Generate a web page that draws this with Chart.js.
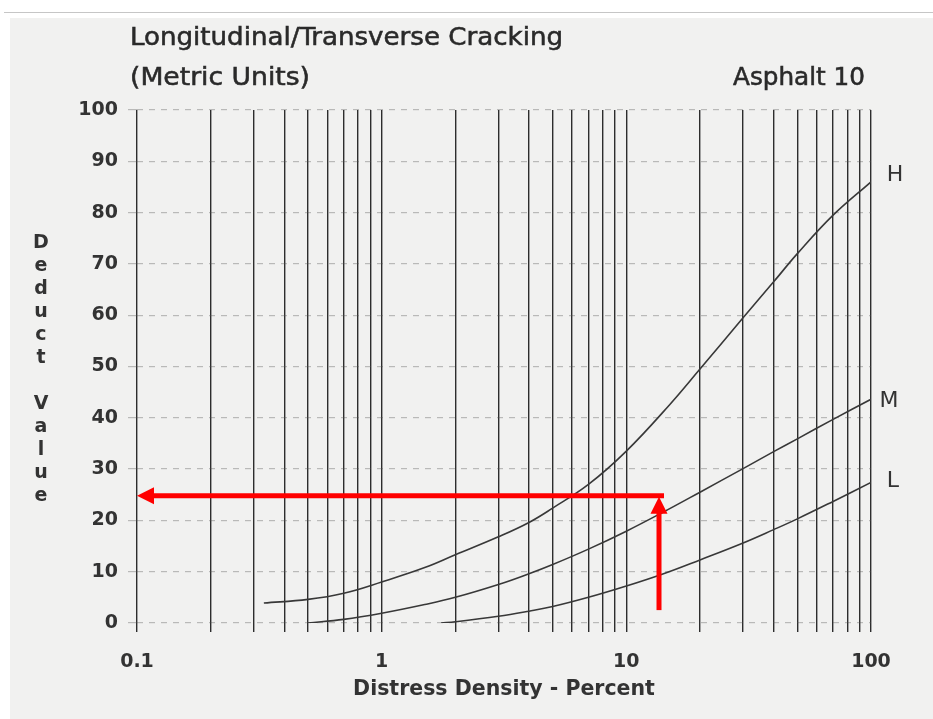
<!DOCTYPE html>
<html>
<head>
<meta charset="utf-8">
<title>Longitudinal/Transverse Cracking</title>
<script src="https://cdn.jsdelivr.net/npm/chart.js@4.4.1/dist/chart.umd.min.js"></script>
<style>
  html, body { margin: 0; padding: 0; background: #fff; }
  #wrap { position: relative; width: 933px; height: 719px; overflow: hidden; }
  #rule { position: absolute; left: 4px; right: 0; top: 12px; height: 1px; background: #c6c6c6; }
  #paper { position: absolute; left: 10px; right: 0; top: 18px; bottom: 0; background: #f1f1f0; }
  #chart { position: absolute; left: 0; top: 0; }
</style>
</head>
<body>
<div id="wrap">
  <div id="rule"></div>
  <div id="paper"></div>
  <canvas id="chart" width="933" height="719"></canvas>
</div>
<script>
// vertical grid lines (log cycles) and the ones that get a label
const gridValues = [0.1, 0.2, 0.3, 0.4, 0.5, 0.6, 0.7, 0.8, 0.9,
                    1, 2, 3, 4, 5, 6, 7, 8, 9,
                    10, 20, 30, 40, 50, 60, 70, 80, 90, 100];
const labelValues = [0.1, 1, 10, 100];

// severity curves
const highX = [0.33, 0.5, 0.7, 1, 1.5, 2, 3, 4, 5, 7, 10, 15, 20, 30, 40, 50, 70, 100];
const highY = [3.9, 4.6, 5.8, 8, 10.8, 13.3, 16.8, 19.6, 22.4, 27, 33.5, 42.5, 49.5, 59.5, 66.5, 72, 79.5, 86];

const medX = [0.5, 0.7, 1, 1.5, 2, 3, 4, 5, 7, 10, 14, 20, 30, 40, 50, 70, 100];
const medY = [0, 0.7, 1.9, 3.6, 5, 7.5, 9.6, 11.4, 14.4, 17.9, 21.5, 25.5, 30.1, 33.4, 35.9, 39.7, 43.6];

const lowX = [1.75, 2, 3, 4, 5, 7, 10, 14, 20, 30, 40, 50, 70, 100];
const lowY = [0, 0.23, 1.3, 2.3, 3.2, 5, 7.2, 9.5, 12.3, 15.6, 18.2, 20.3, 23.7, 27.4];

const curveNames = ["H", "M", "L"];

// red reading arrows: up from the density, then left to the deduct value
const arrowUpX = [13.6, 13.6];
const arrowUpY = [3, 24.6];
const arrowLeftX = [13.6, 0.1];
const arrowLeftY = [24.8, 24.8];

function toPoints(xs, ys) {
  return xs.map((x, i) => ({ x: x, y: ys[i] }));
}

function curve(label, xs, ys) {
  return {
    label: label,
    data: toPoints(xs, ys),
    borderColor: "#383838",
    borderWidth: 1.6,
    pointRadius: 0,
    tension: 0.4,
    fill: false
  };
}

function fitText(ctx, text, x, y, width, align) {
  const w = ctx.measureText(text).width;
  ctx.save();
  ctx.translate(align === "right" ? x - width : x, y);
  ctx.scale(width / w, 1);
  ctx.textAlign = "left";
  ctx.fillText(text, 0, 0);
  ctx.strokeText(text, 0, 0);
  ctx.restore();
}

function drawArrow(ctx, x0, y0, x1, y1) {
  const ang = Math.atan2(y1 - y0, x1 - x0);
  const len = 17, half = 8.5;
  const bx = x1 - len * Math.cos(ang);
  const by = y1 - len * Math.sin(ang);
  ctx.beginPath();
  ctx.moveTo(x0, y0);
  ctx.lineTo(bx, by);
  ctx.lineWidth = 5;
  ctx.lineCap = "square";
  ctx.stroke();
  ctx.beginPath();
  ctx.moveTo(x1, y1);
  ctx.lineTo(bx + half * Math.sin(ang), by - half * Math.cos(ang));
  ctx.lineTo(bx - half * Math.sin(ang), by + half * Math.cos(ang));
  ctx.closePath();
  ctx.fill();
}

const sheetText = {
  id: "sheetText",
  afterDatasetsDraw(chart) {
    const ctx = chart.ctx;
    const xs = chart.scales.x, ys = chart.scales.y;

    // arrows
    ctx.save();
    ctx.strokeStyle = "#ff0000";
    ctx.fillStyle = "#ff0000";
    drawArrow(ctx, xs.getPixelForValue(arrowUpX[0]), ys.getPixelForValue(arrowUpY[0]),
              xs.getPixelForValue(arrowUpX[1]), ys.getPixelForValue(arrowUpY[1]));
    drawArrow(ctx, xs.getPixelForValue(arrowLeftX[0]) + 2.5, ys.getPixelForValue(arrowLeftY[0]),
              xs.getPixelForValue(arrowLeftX[1]), ys.getPixelForValue(arrowLeftY[1]));
    ctx.restore();

    // curve end labels
    const offsets = [[24, -7], [18, 2], [22, -1]];
    ctx.save();
    ctx.fillStyle = "#333";
    ctx.font = "22px 'DejaVu Sans'";
    ctx.textAlign = "center";
    ctx.textBaseline = "middle";
    for (let i = 0; i < 3; i++) {
      const pts = chart.getDatasetMeta(i).data;
      const last = pts[pts.length - 1];
      ctx.fillText(curveNames[i], last.x + offsets[i][0], last.y + offsets[i][1]);
    }
    ctx.restore();

    // sheet headings
    ctx.save();
    ctx.fillStyle = "#2a2a2a";
    ctx.strokeStyle = "#2a2a2a";
    ctx.lineWidth = 0.5;
    ctx.textBaseline = "alphabetic";
    ctx.font = "25px 'DejaVu Sans Condensed', 'DejaVu Sans', sans-serif";
    fitText(ctx, "Longitudinal/Transverse Cracking", 130, 45, 433, "left");
    fitText(ctx, "(Metric Units)", 130, 85, 180, "left");
    fitText(ctx, "Asphalt 10", 865, 85, 132, "right");
    ctx.restore();

    // stacked axis letters
    ctx.save();
    ctx.fillStyle = "#333";
    ctx.font = "bold 19px 'DejaVu Sans'";
    ctx.textAlign = "center";
    ctx.textBaseline = "middle";
    const word = "Deduct Value";
    let y = 243;
    for (const ch of word) {
      if (ch !== " ") ctx.fillText(ch, 41, y);
      y += 23;
    }
    ctx.restore();
  }
};

new Chart(document.getElementById("chart"), {
  type: "line",
  data: {
    datasets: [
      curve("H", highX, highY),
      curve("M", medX, medY),
      curve("L", lowX, lowY)
    ]
  },
  options: {
    responsive: false,
    animation: false,
    events: [],
    layout: {
      padding: { top: 110, right: 62, left: 0, bottom: 0 }
    },
    plugins: {
      legend: { display: false },
      tooltip: { enabled: false }
    },
    scales: {
      x: {
        type: "logarithmic",
        min: 0.1,
        max: 100,
        afterBuildTicks: (scale) => {
          scale.ticks = gridValues.map((v) => ({ value: v }));
        },
        afterFit: (scale) => {
          scale.height = 96;
        },
        grid: {
          color: "#2d2d2d",
          lineWidth: 1.4,
          drawTicks: true,
          tickLength: 9
        },
        border: { display: false },
        ticks: {
          autoSkip: false,
          maxRotation: 0,
          padding: 19,
          color: "#333",
          font: { family: "'DejaVu Sans'", size: 19, weight: "bold" },
          callback: (v) => (labelValues.includes(v) ? String(v) : "")
        },
        title: {
          display: true,
          text: "Distress Density - Percent",
          color: "#333",
          font: { family: "'DejaVu Sans'", size: 20.5, weight: "bold", lineHeight: 1.2 },
          padding: { top: 0, bottom: 17 }
        }
      },
      y: {
        min: 0,
        max: 100,
        afterFit: (scale) => {
          scale.width = 137;
        },
        grid: {
          color: "rgba(80,80,80,0.35)",
          lineWidth: 1.2,
          drawTicks: true,
          tickLength: 9
        },
        border: { display: false, dash: [6, 6] },
        ticks: {
          stepSize: 10,
          padding: 10,
          color: "#333",
          font: { family: "'DejaVu Sans'", size: 19, weight: "bold" }
        }
      }
    }
  },
  plugins: [sheetText]
});
</script>
</body>
</html>
